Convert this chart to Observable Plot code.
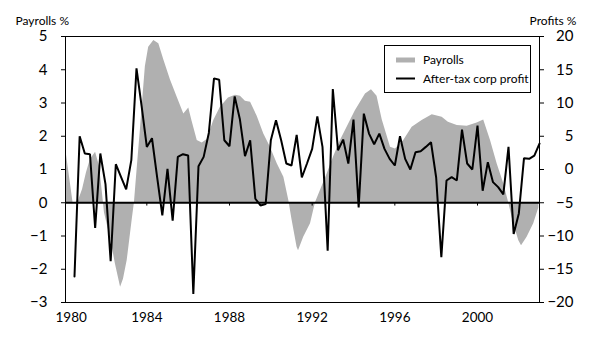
<!DOCTYPE html>
<html><head><meta charset="utf-8">
<script src="https://cdn.jsdelivr.net/npm/d3@7"></script>
<script src="https://cdn.jsdelivr.net/npm/@observablehq/plot@0.6"></script>
<style>html,body{margin:0;padding:0;background:#fff;} #chart{width:600px;height:355px;}</style>
</head><body><div id="chart"></div>
<script>
// Payrolls (% change, left axis)
const payrollYears = [1980.07,1980.21,1980.43,1980.55,1980.69,1980.89,1981.08,1981.27,1981.52,1981.71,1981.85,1981.95,1982.10,1982.24,1982.48,1982.73,1982.87,1983.05,1983.29,1983.40,1983.53,1983.69,1983.84,1983.93,1984.09,1984.34,1984.58,1984.82,1985.14,1985.47,1985.79,1985.92,1986.03,1986.19,1986.44,1986.68,1986.92,1987.24,1987.56,1987.95,1988.29,1988.53,1988.77,1989.02,1989.34,1989.66,1989.98,1990.31,1990.63,1990.87,1991.03,1991.27,1991.34,1991.59,1991.92,1992.16,1992.40,1992.73,1993.05,1993.37,1993.69,1994.09,1994.58,1994.87,1995.14,1995.39,1995.79,1996.03,1996.43,1996.84,1997.32,1997.81,1998.29,1998.59,1999.02,1999.50,1999.98,2000.30,2000.63,2000.95,2001.27,2001.51,2001.75,2002.00,2002.13,2002.40,2002.72,2002.97];
const payrollValues = [1.63,1.0,0.0,0.0,0.05,0.4,0.9,1.3,1.52,1.1,0.3,-0.3,-0.7,-1.04,-1.84,-2.54,-2.3,-1.74,-0.53,0.0,1.0,2.2,3.4,4.1,4.68,4.88,4.78,4.3,3.7,3.17,2.67,2.77,2.85,2.45,1.87,1.8,1.9,2.47,2.87,3.15,3.23,3.2,3.05,3.02,2.6,2.07,1.67,1.17,0.77,0.07,-0.53,-1.34,-1.44,-1.04,-0.63,0.0,0.37,0.87,1.4,1.87,2.27,2.77,3.27,3.4,3.2,2.5,1.67,1.62,1.87,2.27,2.47,2.65,2.57,2.42,2.32,2.3,2.4,2.49,1.87,1.17,0.57,0.0,-0.63,-1.14,-1.29,-1.04,-0.63,-0.15];

// After-tax corporate profit (% change, right axis), quarterly from 1980 Q2
const profitStartYear = 1980.5;
const profitValues = [-16.1,5.0,2.4,2.3,-8.8,2.4,-2.2,-13.8,0.8,-1.1,-3.0,1.4,15.2,9.5,3.4,4.7,-1.2,-6.9,0.1,-7.7,1.9,2.3,2.1,-18.7,0.5,1.9,5.5,13.7,13.5,4.4,3.5,11.0,7.6,2.0,4.4,-4.4,-5.4,-5.2,4.4,7.4,4.4,0.9,0.6,5.2,-1.2,0.9,3.1,8.0,3.4,-12.2,12.1,2.9,4.5,0.9,7.5,-5.7,8.4,5.4,3.8,5.4,3.1,1.6,0.6,5.0,1.6,0.0,2.6,2.75,3.4,4.1,-1.2,-13.2,-1.65,-1.15,-1.65,6.0,0.9,0.0,6.6,-3.2,1.1,-1.9,-2.65,-3.75,3.4,-9.7,-6.6,1.7,1.6,2.1,3.9];

const leftTicks = [-3,-2,-1,0,1,2,3,4,5];
const rightTicks = [-20,-15,-10,-5,0,5,10,15,20];
const xTicks = [1980,1984,1988,1992,1996,2000];
const seriesNames = ["Payrolls","After-tax corp profit"];
const axisTitles = ["Payrolls %","Profits %"];

const payroll = payrollYears.map((year,i)=>({year, value: payrollValues[i]}));
const profit = profitValues.map((value,i)=>({year: profitStartYear + i*0.25, value}));
const toLeft = p => (p + 5) / 5;
const fmt = d3.format("d");

const chart = Plot.plot({
  width: 600, height: 355,
  marginLeft: 65, marginRight: 61, marginTop: 36, marginBottom: 53,
  style: {fontFamily: "Lato, sans-serif", fontSize: "15px", color: "#000", background: "#fff"},
  x: {domain: [1980.065, 2003], axis: null},
  y: {domain: [-3, 5]},
  marks: [
    Plot.areaY(payroll, {x: "year", y: "value", fill: "#b0b0b0"}),
    Plot.ruleY([0], {stroke: "#000", strokeWidth: 2}),
    Plot.ruleX(xTicks.slice(1), {x: d=>d, y1: 0, y2: -0.1, stroke: "#000"}),
    Plot.lineY(profit, {x: "year", y: d => toLeft(d.value), stroke: "#000", strokeWidth: 2, strokeLinejoin: "miter"}),
    Plot.frame({stroke: "#000"}),
    Plot.axisY(leftTicks, {anchor: "left", tickSize: 4, tickPadding: 14, label: null, tickFormat: fmt, fontSize: 15}),
    Plot.axisY(rightTicks.map(toLeft), {anchor: "right", tickSize: 4, tickPadding: 30, textAnchor: "end", label: null, tickFormat: d => fmt(Math.round(d*5-5)), fontSize: 15}),
    Plot.text(xTicks.slice(1), {x: d=>d, frameAnchor: "bottom", dy: 19, fontSize: 13.5, text: d=>String(d)}),
    Plot.text(xTicks.slice(0,1), {x: d=>d, frameAnchor: "bottom", dy: 19, dx: 7, fontSize: 13.5, text: d=>String(d)}),
    Plot.text([axisTitles[0]], {frameAnchor: "top-left", dx: -50, dy: -20, textAnchor: "start", fontSize: 12}),
    Plot.text([axisTitles[1]], {frameAnchor: "top-right", dx: 37, dy: -20, textAnchor: "end", fontSize: 12})
  ]
});
document.getElementById("chart").appendChild(chart);

// Legend
const svg = d3.select(chart);
const lg = svg.append("g").attr("font-family","Lato, sans-serif").attr("font-size","12px").attr("text-anchor","start");
lg.append("rect").attr("x",384.5).attr("y",45.5).attr("width",146).attr("height",47).attr("fill","#fff").attr("stroke","#000");
lg.append("line").attr("x1",396).attr("x2",415).attr("y1",60).attr("y2",60).attr("stroke","#b0b0b0").attr("stroke-width",5);
lg.append("line").attr("x1",396).attr("x2",415).attr("y1",78.5).attr("y2",78.5).attr("stroke","#000").attr("stroke-width",2);
lg.append("text").attr("x",423).attr("y",60).attr("dy","0.35em").attr("text-anchor","start").text(seriesNames[0]);
lg.append("text").attr("x",423).attr("y",78.5).attr("dy","0.35em").attr("text-anchor","start").text(seriesNames[1]);
</script>
</body></html>
